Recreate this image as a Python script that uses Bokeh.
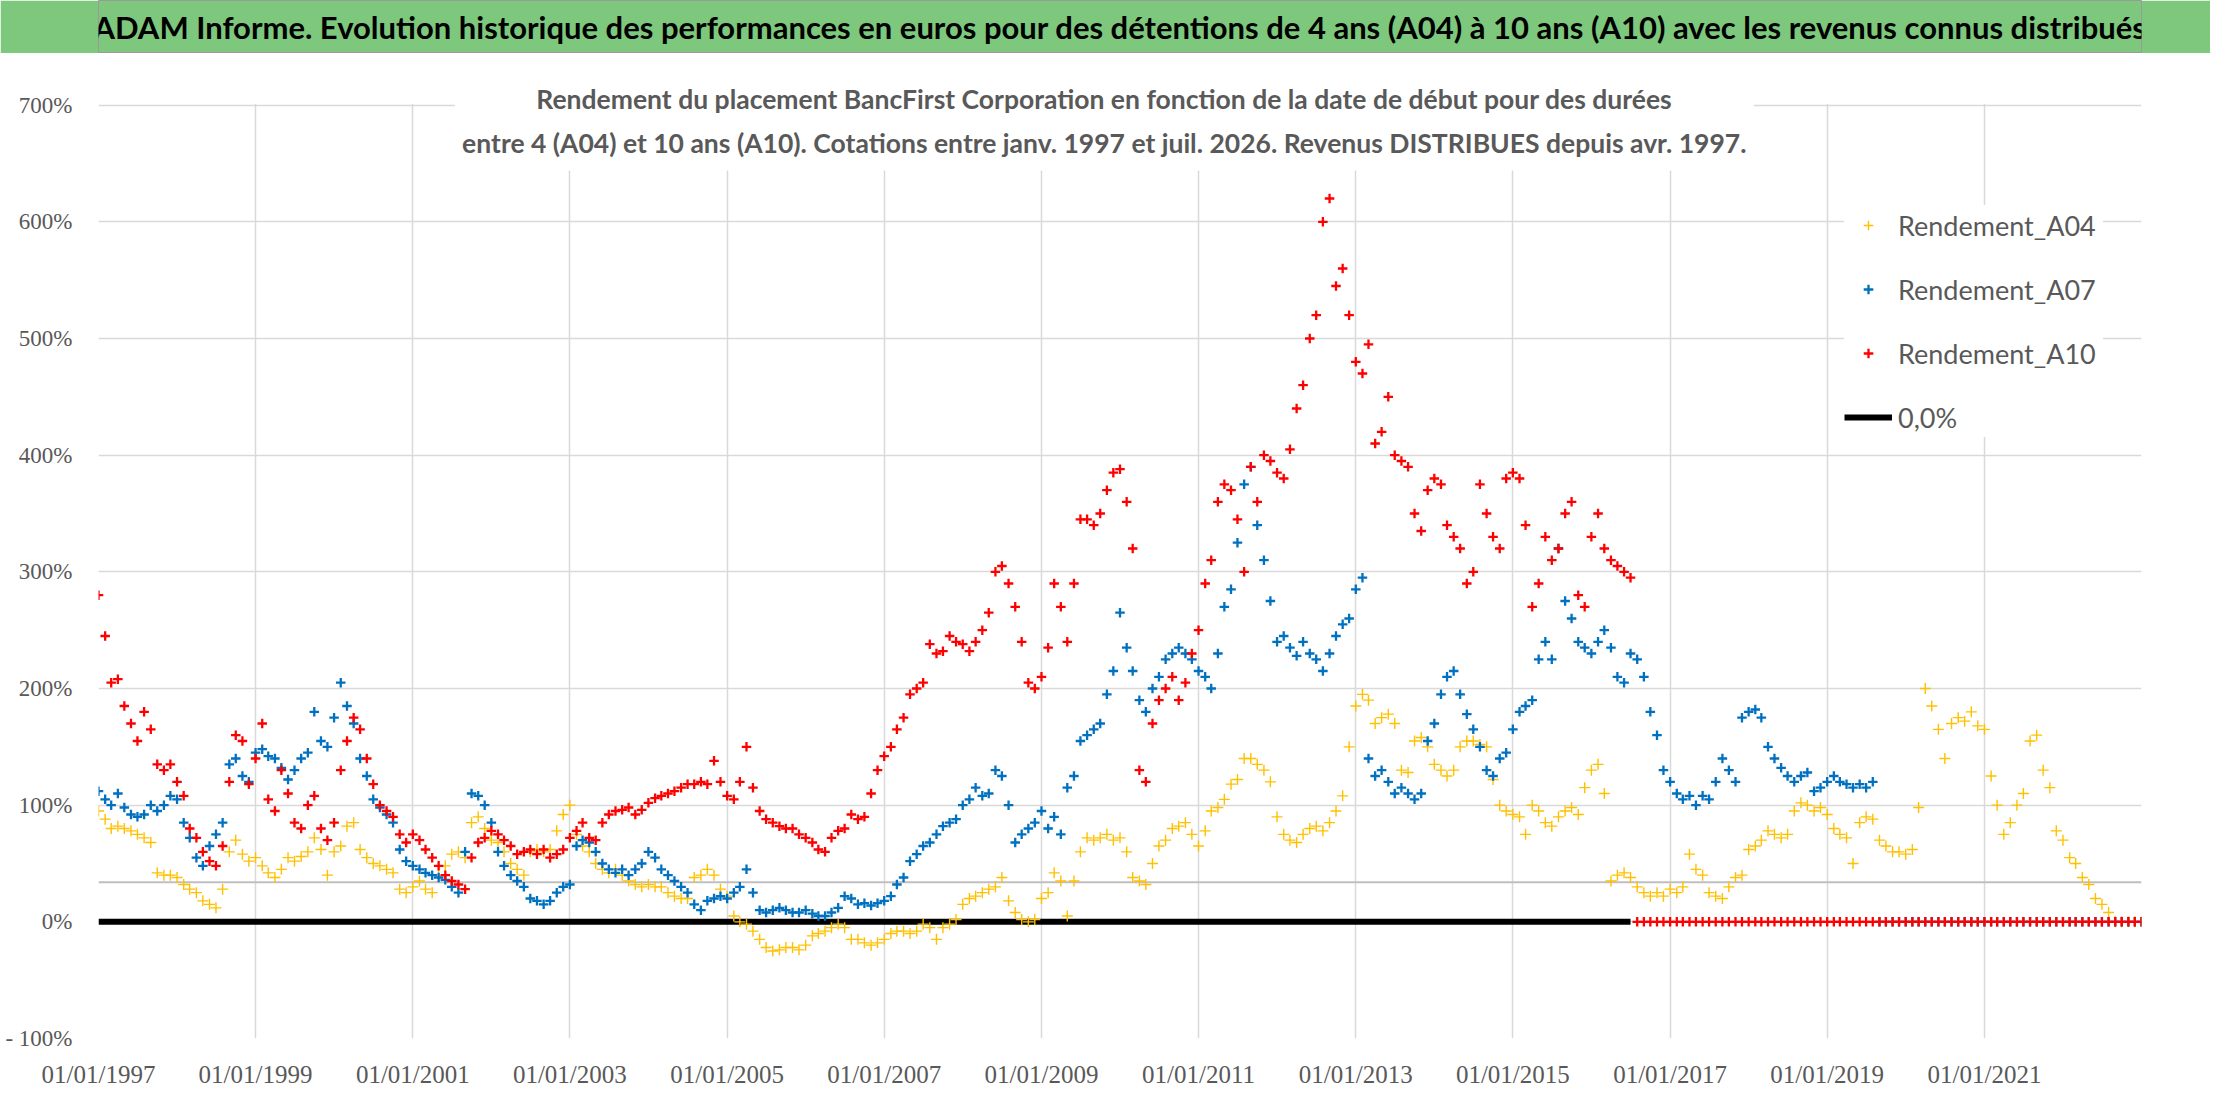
import pandas as pd
from datetime import datetime

from bokeh.plotting import figure
from bokeh.layouts import column
from bokeh.models import (ColumnDataSource, Range1d, FixedTicker, DatetimeTickFormatter,
                          Legend, LegendItem, Label, BoxAnnotation, Span)
from bokeh.embed import file_html
from bokeh.resources import INLINE

title_text = ("ADAM Informe. Evolution historique des performances en euros pour des détentions "
              "de 4 ans (A04) à 10 ans (A10) avec les revenus connus distribués")
subtitle_1 = "Rendement du placement BancFirst Corporation en fonction de la date de début pour des durées"
subtitle_2 = ("entre 4 (A04) et 10 ans (A10). Cotations entre janv. 1997 et juil. 2026. "
              "Revenus DISTRIBUES depuis avr. 1997.")

# monthly start dates, Jan 1997 -> Jan 2023, values in %
first_month = "1997-01-01"

rendement_a04 = [
    95, 88, 80, 82, 80, 78, 75, 72, 68, 42, 40, 40,          # 1997
    38, 32, 28, 25, 18, 15, 12, 28, 60, 70, 58, 52,          # 1998
    55, 48, 42, 38, 45, 55, 52, 56, 60, 72, 62, 40,          # 1999
    60, 65, 82, 85, 62, 55, 50, 48, 45, 42, 28, 25,          # 2000
    30, 35, 28, 25, 40, 48, 58, 60, 55, 85, 90, 80,          # 2001
    70, 68, 60, 50, 45, 40, 60, 62, 60, 62, 78, 92,          # 2002
    100, 75, 65, 60, 50, 45, 42, 45, 40, 35, 32, 30,         # 2003
    32, 30, 30, 25, 22, 20, 20, 38, 40, 45, 40, 28,          # 2004
    22, 5, 0, -2, -8, -15, -22, -25, -24, -22, -22, -24,     # 2005
    -20, -12, -10, -8, -5, -2, -5, -15, -15, -18, -20, -18,  # 2006
    -15, -10, -8, -8, -10, -8, -2, -5, -15, -5, -2, 2,       # 2007
    15, 20, 22, 25, 28, 30, 38, 18, 8, 2, 0, 2,              # 2008
    20, 25, 42, 35, 5, 35, 60, 72, 70, 72, 75, 70,           # 2009
    72, 60, 38, 35, 32, 50, 65, 70, 80, 82, 85, 75,          # 2010
    65, 78, 95, 98, 105, 118, 122, 140, 140, 135, 130, 120,  # 2011
    90, 75, 70, 68, 75, 80, 82, 78, 85, 95, 108, 150,        # 2012
    185, 195, 190, 170, 175, 178, 170, 130, 128, 155, 158, 150,  # 2013
    135, 130, 125, 130, 150, 155, 155, 152, 150, 122, 100, 95,   # 2014
    92, 90, 75, 100, 95, 85, 82, 90, 95, 98, 92, 115,        # 2015
    130, 135, 110, 35, 40, 42, 38, 30, 25, 22, 25, 22,       # 2016
    28, 25, 30, 58, 45, 40, 25, 22, 20, 30, 38, 40,          # 2017
    62, 65, 70, 78, 75, 72, 75, 95, 102, 100, 95, 98,        # 2018
    92, 80, 75, 72, 50, 85, 90, 88, 70, 65, 60, 60,          # 2019
    58, 62, 98, 200, 185, 165, 140, 170, 175, 172, 180, 168,  # 2020
    165, 125, 100, 75, 85, 100, 110, 155, 160, 130, 115, 78,  # 2021
    70, 55, 50, 38, 32, 20, 15, 8, 0, 0, 0, 0,               # 2022
    0,                                                       # 2023
]

rendement_a07 = [
    112, 105, 100, 110, 98, 92, 90, 92, 100, 95, 100, 108,   # 1997
    105, 85, 72, 55, 48, 65, 75, 85, 135, 140, 125, 120,     # 1998
    145, 148, 142, 140, 132, 122, 130, 140, 145, 180, 155, 150,  # 1999
    175, 205, 185, 170, 140, 125, 105, 98, 92, 85, 62, 52,   # 2000
    48, 45, 42, 40, 38, 36, 30, 25, 60, 110, 108, 100,       # 2001
    85, 60, 48, 40, 35, 30, 20, 18, 15, 18, 25, 30,          # 2002
    32, 65, 70, 68, 60, 50, 45, 42, 45, 40, 45, 50,          # 2003
    60, 55, 45, 40, 35, 30, 25, 15, 10, 18, 20, 22,          # 2004
    20, 25, 30, 45, 25, 10, 8, 10, 12, 10, 8, 8,             # 2005
    10, 7, 5, 5, 8, 12, 22, 20, 15, 16, 14, 16,              # 2006
    18, 22, 32, 38, 52, 58, 65, 68, 75, 82, 85, 88,          # 2007
    100, 105, 115, 108, 110, 130, 125, 100, 68, 75, 80, 85,  # 2008
    95, 80, 90, 75, 115, 125, 155, 160, 165, 170, 195, 215,  # 2009
    265, 235, 215, 190, 180, 200, 210, 225, 230, 235, 230, 225,  # 2010
    215, 210, 200, 230, 270, 285, 325, 375, 390, 340, 310, 275,  # 2011
    240, 245, 235, 228, 240, 230, 225, 215, 230, 245, 255, 260,  # 2012
    285, 295, 140, 125, 130, 120, 110, 115, 110, 105, 110, 155,  # 2013
    170, 195, 210, 215, 195, 178, 165, 150, 130, 125, 140, 145,  # 2014
    165, 180, 185, 190, 225, 240, 225, 320, 275, 260, 240, 235,  # 2015
    230, 240, 250, 235, 210, 205, 230, 225, 210, 180, 160, 130,  # 2016
    120, 110, 105, 108, 100, 108, 105, 120, 140, 130, 120, 175,  # 2017
    180, 182, 175, 150, 140, 132, 125, 120, 125, 128, 112, 115,  # 2018
    120, 125, 120, 118, 115, 118, 115, 120, 0, 0, 0, 0,      # 2019
    0, 0, 0, 0, 0, 0, 0, 0, 0, 0, 0, 0,                      # 2020
    0, 0, 0, 0, 0, 0, 0, 0, 0, 0, 0, 0,                      # 2021
    0, 0, 0, 0, 0, 0, 0, 0, 0, 0, 0, 0,                      # 2022
    0,                                                       # 2023
]

rendement_a10 = [
    280, 245, 205, 208, 185, 170, 155, 180, 165, 135, 130, 135,  # 1997
    120, 108, 80, 72, 60, 52, 48, 65, 120, 160, 155, 118,    # 1998
    140, 170, 105, 95, 130, 110, 85, 80, 100, 108, 80, 70,   # 1999
    85, 130, 155, 175, 165, 140, 118, 100, 95, 90, 75, 68,   # 2000
    75, 70, 62, 55, 48, 40, 35, 32, 28, 55, 68, 72,          # 2001
    78, 75, 70, 65, 58, 60, 62, 58, 62, 55, 58, 62,          # 2002
    72, 78, 85, 72, 70, 85, 92, 95, 96, 98, 92, 96,          # 2003
    102, 106, 108, 110, 112, 115, 118, 118, 120, 118, 138, 120,  # 2004
    108, 105, 120, 150, 115, 95, 88, 85, 82, 80, 80, 75,     # 2005
    72, 68, 62, 60, 72, 78, 80, 92, 88, 90, 110, 130,        # 2006
    142, 150, 165, 175, 195, 200, 205, 238, 230, 232, 245, 240,  # 2007
    238, 232, 240, 250, 265, 300, 305, 290, 270, 240, 205, 200,  # 2008
    210, 235, 290, 270, 240, 290, 345, 345, 340, 350, 370, 385,  # 2009
    388, 360, 320, 130, 120, 170, 190, 200, 210, 190, 205, 230,  # 2010
    250, 290, 310, 360, 375, 370, 345, 300, 390, 360, 400, 395,  # 2011
    385, 380, 405, 440, 460, 500, 520, 600, 620, 545, 560, 520,  # 2012
    480, 470, 495, 410, 420, 450, 400, 395, 390, 350, 335, 370,  # 2013
    380, 375, 340, 330, 320, 290, 300, 375, 350, 330, 320, 380,  # 2014
    385, 380, 340, 270, 290, 330, 310, 320, 350, 360, 280, 270,  # 2015
    330, 350, 320, 310, 305, 300, 295, 0, 0, 0, 0, 0,        # 2016
    0, 0, 0, 0, 0, 0, 0, 0, 0, 0, 0, 0,                      # 2017
    0, 0, 0, 0, 0, 0, 0, 0, 0, 0, 0, 0,                      # 2018
    0, 0, 0, 0, 0, 0, 0, 0, 0, 0, 0, 0,                      # 2019
    0, 0, 0, 0, 0, 0, 0, 0, 0, 0, 0, 0,                      # 2020
    0, 0, 0, 0, 0, 0, 0, 0, 0, 0, 0, 0,                      # 2021
    0, 0, 0, 0, 0, 0, 0, 0, 0, 0, 0, 0,                      # 2022
    0,                                                       # 2023
]

# grey horizontal reference line visible in the chart (in %)
ref_level = 34

x_tick_dates = ["1997-01-01", "1999-01-01", "2001-01-01", "2003-01-01", "2005-01-01",
                "2007-01-01", "2009-01-01", "2011-01-01", "2013-01-01", "2015-01-01",
                "2017-01-01", "2019-01-01", "2021-01-01"]
y_ticks = [-100, 0, 100, 200, 300, 400, 500, 600, 700]
y_tick_labels = ["- 100%", "0%", "100%", "200%", "300%", "400%", "500%", "600%", "700%"]

FONT = "Lato"
AXIS_FONT = "Liberation Sans Narrow"
GREY_TXT = "#595959"

dates = pd.date_range(first_month, periods=len(rendement_a04), freq="MS")
src = ColumnDataSource(data=dict(date=dates, a04=rendement_a04, a07=rendement_a07, a10=rendement_a10))

# zero line runs while A10 still has values
last_a10 = max(i for i, v in enumerate(rendement_a10) if v != 0)
zero_src = ColumnDataSource(data=dict(date=[dates[0], dates[last_a10]], y=[0, 0]))

# ---- title band
t = figure(width=2210, height=53, x_range=(0, 1), y_range=(0, 1),
           x_axis_type=None, y_axis_type=None, toolbar_location=None,
           output_backend="svg", min_border=0)
t.background_fill_color = "#7DC87D"
t.border_fill_color = "#7DC87D"
t.outline_line_color = "#9A9A9A"
t.grid.visible = False
t.add_layout(Label(x=0.5, y=0.5, text=title_text, text_align="center", text_baseline="middle",
                   text_font=FONT, text_font_style="bold", text_font_size="31px",
                   text_color="black"))

# ---- main chart (frame runs a little above 700% so the subtitle is not clipped)
p = figure(width=2210, height=1045, x_axis_type="datetime",
           x_range=Range1d(pd.Timestamp("1997-01-01"), pd.Timestamp("2023-01-01")),
           y_range=Range1d(-100, 740),
           toolbar_location=None, output_backend="svg",
           min_border_left=98, min_border_right=69, min_border_top=5, min_border_bottom=60)
p.outline_line_color = None

xticks = [pd.Timestamp(d).timestamp() * 1000 for d in x_tick_dates]
p.xaxis.ticker = FixedTicker(ticks=xticks)
p.xgrid.ticker = FixedTicker(ticks=xticks)
p.xaxis.formatter = DatetimeTickFormatter(days="%d/%m/%Y", months="%d/%m/%Y", years="%d/%m/%Y")
p.yaxis.ticker = FixedTicker(ticks=y_ticks)
p.ygrid.ticker = FixedTicker(ticks=y_ticks)
p.yaxis.major_label_overrides = dict(zip(y_ticks, y_tick_labels))

for ax in (p.xaxis, p.yaxis):
    ax.axis_line_color = None
    ax.major_tick_line_color = None
    ax.minor_tick_line_color = None
    ax.major_label_text_color = GREY_TXT
    ax.major_label_text_font = AXIS_FONT
p.xaxis.major_label_text_font_size = "25px"
p.yaxis.major_label_text_font_size = "23px"
p.xaxis.major_label_standoff = 16
p.yaxis.major_label_standoff = 20
p.grid.grid_line_color = "#D9D9D9"
p.grid.grid_line_width = 1.5

p.add_layout(Span(location=ref_level, dimension="width", line_color="#BFBFBF",
                  line_width=2, level="underlay"))

r0 = p.line("date", "y", source=zero_src, line_color="black", line_width=6)
r04 = p.scatter("date", "a04", source=src, marker="cross", size=11,
                line_color="#FFC000", line_width=1.4)
r07 = p.scatter("date", "a07", source=src, marker="cross", size=9.5,
                line_color="#0070C0", line_width=2.3)
r10 = p.scatter("date", "a10", source=src, marker="cross", size=9.5,
                line_color="#FF0000", line_width=2.3)

# hide the grid above 700% and behind the subtitle
p.add_layout(BoxAnnotation(bottom=701, top=740, fill_color="white", fill_alpha=1, line_color=None))
p.add_layout(BoxAnnotation(left=datetime(2001, 7, 15), right=datetime(2018, 1, 25),
                           bottom=644, top=740, fill_color="white", fill_alpha=1,
                           line_color=None))
sub_x = datetime(2009, 10, 20)
for txt, yy in ((subtitle_1, 705), (subtitle_2, 668)):
    p.add_layout(Label(x=sub_x, y=yy, text=txt, text_align="center", text_baseline="middle",
                       text_font=FONT, text_font_style="bold", text_font_size="26.5px",
                       text_color=GREY_TXT))

legend = Legend(items=[LegendItem(label="Rendement_A04", renderers=[r04]),
                       LegendItem(label="Rendement_A07", renderers=[r07]),
                       LegendItem(label="Rendement_A10", renderers=[r10]),
                       LegendItem(label="0,0%", renderers=[r0])],
                location=(1746, 601), orientation="vertical",
                label_text_font=FONT, label_text_font_size="27px", label_text_color=GREY_TXT,
                glyph_width=48, glyph_height=24, label_height=40, label_width=205,
                label_standoff=6, spacing=24, padding=12, margin=0,
                border_line_color=None, background_fill_color="white", background_fill_alpha=1)
p.add_layout(legend)

layout = column(t, p, spacing=0)
open("out.html", "w").write(file_html(layout, INLINE))
